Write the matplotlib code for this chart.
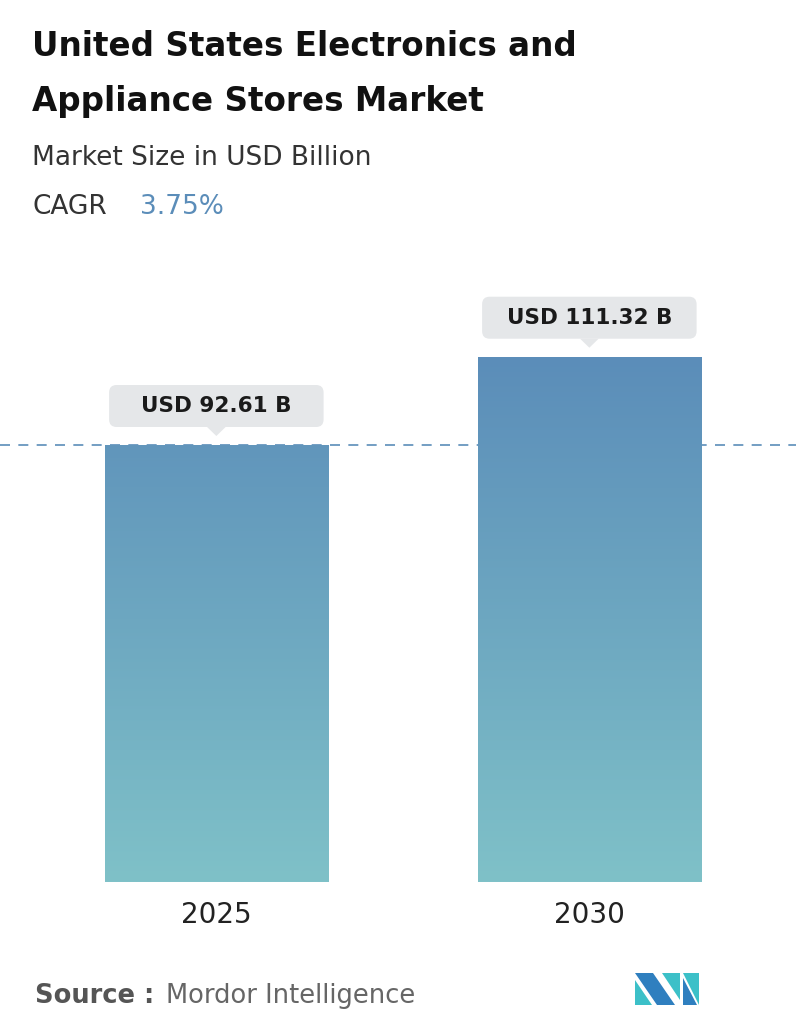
import matplotlib
matplotlib.use("Agg")
import matplotlib.pyplot as plt
import numpy as np
from matplotlib.patches import FancyBboxPatch, Polygon
from matplotlib.colors import LinearSegmentedColormap

years = ["2025", "2030"]
values = [92.61, 111.32]
labels = ["USD 92.61 B", "USD 111.32 B"]

W, H = 796, 1034
fig = plt.figure(figsize=(W/100, H/100), dpi=100)
fig.patch.set_facecolor("white")

def fx(px): return px / W
def fy(py): return 1 - py / H

ax = fig.add_axes([0, fy(882), 1, (882-250)/H])
ax.set_xlim(-0.580, 1.554)
ppu = 437/92.61
ax.set_ylim(0, 632/ppu)
ax.axis("off")

cmap = LinearSegmentedColormap.from_list("g", ["#7fc1c8", "#5b8db9"])
grad = np.linspace(0, 1, 256).reshape(-1, 1)
bw = 0.598
ymax = max(values)
for i, v in enumerate(values):
    bars = ax.bar(i, v, width=bw, color="none", edgecolor="none")
    im = ax.imshow(grad, cmap=cmap, origin="lower", aspect="auto",
                   extent=[i-bw/2, i+bw/2, 0, ymax], vmin=0, vmax=1, zorder=2)
    im.set_clip_path(bars[0])

ax.axhline(values[0], color="#5b8db9", lw=1.2, ls=(0, (6, 5)), zorder=1)

for i, (v, lab) in enumerate(zip(values, labels)):
    y0 = v + 18/ppu
    h = 42/ppu
    w = 0.575
    box = FancyBboxPatch((i - w/2, y0), w, h, boxstyle="round,pad=0,rounding_size=0.02",
                         fc="#e5e7e9", ec="none", zorder=3, mutation_aspect=1/ppu*373/1)
    ax.add_patch(box)
    tri = Polygon([[i-0.025, y0+0.01], [i+0.025, y0+0.01], [i, y0-9/ppu]],
                  closed=True, fc="#e5e7e9", ec="none", zorder=3)
    ax.add_patch(tri)
    ax.text(i, y0 + h/2, lab, ha="center", va="center", fontsize=15.5,
            fontweight="bold", color="#1a1a1a", zorder=4)
    ax.text(i, -33/ppu, years[i], ha="center", va="center", fontsize=20,
            color="#222222", clip_on=False)

fig.text(fx(32), fy(47), "United States Electronics and", fontsize=23.5,
         fontweight="bold", color="#111111", va="center")
fig.text(fx(32), fy(102), "Appliance Stores Market", fontsize=23.5,
         fontweight="bold", color="#111111", va="center")
fig.text(fx(32), fy(158), "Market Size in USD Billion", fontsize=19,
         color="#333333", va="center")
fig.text(fx(32), fy(207), "CAGR", fontsize=19, color="#333333", va="center")
fig.text(fx(140), fy(207), "3.75%", fontsize=19, color="#5b8db9", va="center")

fig.text(fx(35), fy(996), "Source :", fontsize=18.5, fontweight="bold",
         color="#555555", va="center")
fig.text(fx(166), fy(996), "Mordor Intelligence", fontsize=18.5,
         color="#666666", va="center")

def P(pts, c):
    fig.patches.append(Polygon([[fx(x), fy(y)] for x, y in pts], closed=True,
                               fc=c, ec="none", transform=fig.transFigure))
P([(635, 973), (653, 973), (675, 1005), (657, 1005)], "#2f7fbf")
P([(635, 980), (635, 1005), (652, 1005)], "#3cc0c8")
P([(662, 973), (680, 973), (680, 1000)], "#3cc0c8")
P([(683, 973), (699, 973), (699, 1005)], "#3cc0c8")
P([(683, 978), (697, 1005), (683, 1005)], "#2f7fbf")

fig.savefig("out.png", dpi=100, facecolor="white")
